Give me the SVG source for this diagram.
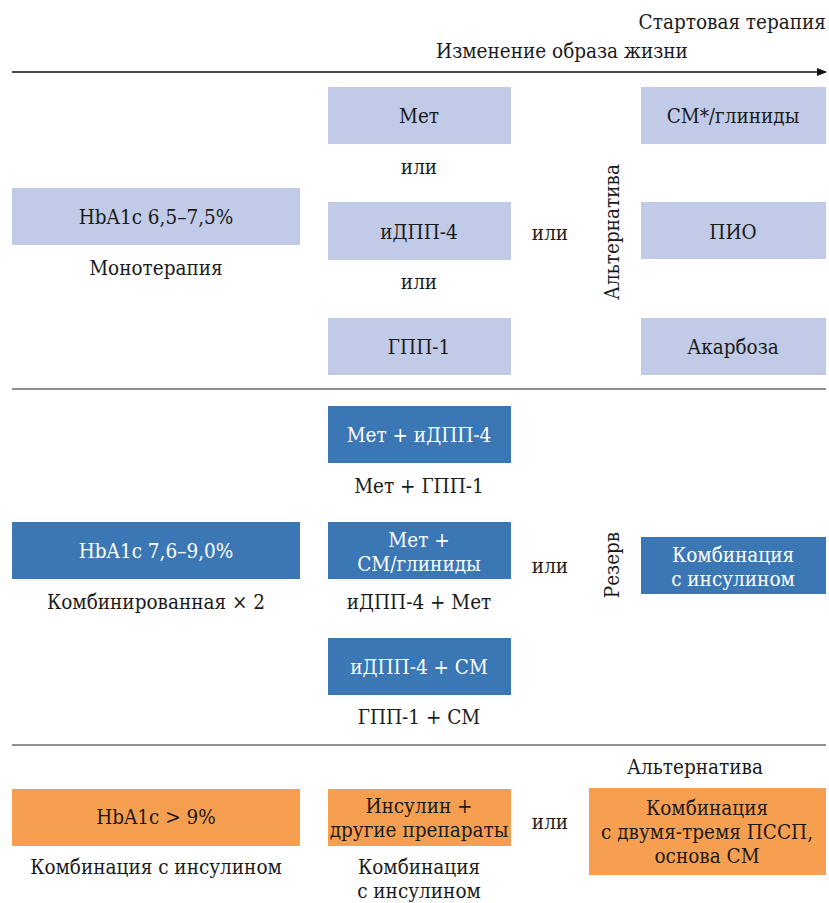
<svg xmlns="http://www.w3.org/2000/svg" width="829" height="903" viewBox="0 0 829 903">
<style>
text{font-family:"DejaVu Serif Condensed","DejaVu Serif",serif;font-size:20.5px;fill:#1a1a1a;text-anchor:middle}
.lb{fill:#c1cae6}
.db{fill:#3b77b5}
.or{fill:#f79f50}
.w{fill:#ffffff}
.sep{stroke:#222;stroke-width:1.2}
</style>
<defs>
<marker id="ah" markerWidth="10" markerHeight="8" refX="9" refY="4" orient="auto" markerUnits="userSpaceOnUse">
<path d="M0,0 L10,4 L0,8 Z" fill="#111"/>
</marker>
</defs>
<g id="header">
<text x="826" y="29" style="text-anchor:end">Стартовая терапия</text>
<text x="562" y="58">Изменение образа жизни</text>
</g>
<g id="connectors">
<line x1="12" y1="72" x2="826" y2="72" stroke="#111" stroke-width="1.5" marker-end="url(#ah)"/>
<line class="sep" x1="12" y1="389" x2="826" y2="389"/>
<line class="sep" x1="12" y1="745" x2="826" y2="745"/>
</g>
<g id="s1-hba1c"><rect class="lb" x="12" y="188" width="288" height="57"/><text x="156" y="224">HbA1c 6,5–7,5%</text><text x="156" y="275">Монотерапия</text></g>
<g id="s1-met"><rect class="lb" x="328" y="87" width="183" height="57"/><text x="419" y="123">Мет</text></g>
<g id="s1-or1"><text x="419" y="174">или</text></g>
<g id="s1-idpp"><rect class="lb" x="328" y="202" width="183" height="58"/><text x="419" y="239">иДПП-4</text></g>
<g id="s1-or2"><text x="419" y="289">или</text></g>
<g id="s1-gpp"><rect class="lb" x="328" y="318" width="183" height="57"/><text x="419" y="354">ГПП-1</text></g>
<g id="s1-or3"><text x="550" y="240">или</text></g>
<g id="s1-alt"><text transform="translate(619,232) rotate(-90)">Альтернатива</text></g>
<g id="s1-sm"><rect class="lb" x="641" y="87" width="185" height="57"/><text x="733" y="123">СМ*/глиниды</text></g>
<g id="s1-pio"><rect class="lb" x="641" y="202" width="185" height="57"/><text x="733" y="239">ПИО</text></g>
<g id="s1-akar"><rect class="lb" x="641" y="318" width="185" height="57"/><text x="733" y="354">Акарбоза</text></g>

<g id="s2-hba1c"><rect class="db" x="12" y="522" width="288" height="57"/><text class="w" x="156" y="558">HbA1c 7,6–9,0%</text><text x="156" y="609">Комбинированная × 2</text></g>
<g id="s2-met-idpp"><rect class="db" x="328" y="406" width="183" height="57"/><text class="w" x="419" y="442">Мет + иДПП-4</text></g>
<g id="s2-met-gpp"><text x="419" y="493">Мет + ГПП-1</text></g>
<g id="s2-met-sm"><rect class="db" x="328" y="522" width="183" height="57"/><text class="w" x="419" y="547">Мет +</text><text class="w" x="419" y="571">СМ/глиниды</text></g>
<g id="s2-idpp-met"><text x="419" y="609">иДПП-4 + Мет</text></g>
<g id="s2-idpp-sm"><rect class="db" x="328" y="638" width="183" height="57"/><text class="w" x="419" y="674">иДПП-4 + СМ</text></g>
<g id="s2-gpp-sm"><text x="419" y="724">ГПП-1 + СМ</text></g>
<g id="s2-or"><text x="550" y="573">или</text></g>
<g id="s2-rez"><text transform="translate(619,565) rotate(-90)">Резерв</text></g>
<g id="s2-ins"><rect class="db" x="641" y="537" width="185" height="57"/><text class="w" x="733" y="562">Комбинация</text><text class="w" x="733" y="586">с инсулином</text></g>

<g id="s3-hba1c"><rect class="or" x="12" y="789" width="288" height="57"/><text x="156" y="824">HbA1c &gt; 9%</text><text x="156" y="874">Комбинация с инсулином</text></g>
<g id="s3-ins"><rect class="or" x="328" y="789" width="183" height="57"/><text x="419" y="813">Инсулин +</text><text x="419" y="837">другие препараты</text><text x="419" y="874">Комбинация</text><text x="419" y="898">с инсулином</text></g>
<g id="s3-or"><text x="550" y="829">или</text></g>
<g id="s3-alt"><text x="695" y="774">Альтернатива</text></g>
<g id="s3-combo"><rect class="or" x="589" y="788" width="237" height="87"/><text x="707" y="815">Комбинация</text><text x="707" y="839">с двумя-тремя ПССП,</text><text x="707" y="863">основа СМ</text></g>
</svg>
